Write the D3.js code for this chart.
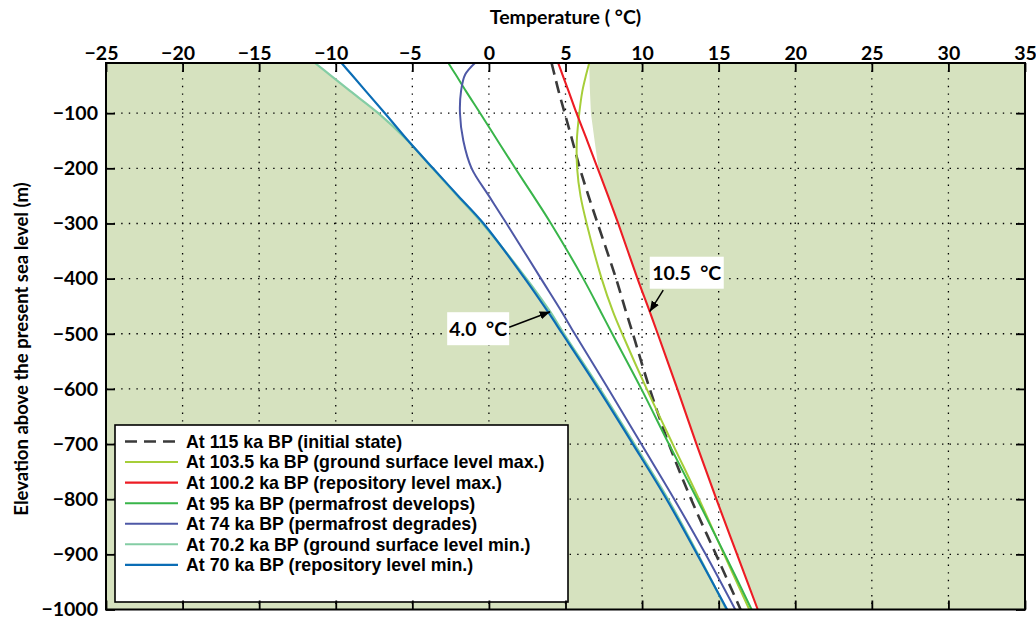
<!DOCTYPE html>
<html>
<head>
<meta charset="utf-8">
<script src="https://cdn.jsdelivr.net/npm/d3@7"></script>
<style>
  body { margin: 0; background: #fff; }
  text { font-family: Lato, "Open Sans", sans-serif; font-weight: 700; fill: #000; }
  .legend-label { font-family: "Liberation Sans", Arial, sans-serif; }
</style>
</head>
<body>
<svg id="chart" width="1036" height="621"></svg>
<script>
// Depth levels (m, elevation relative to present sea level)
const depthM = [-9, -30, -60, -100, -150, -200, -250, -300, -400, -460, -500, -600, -700, -800, -900, -1000];

// Temperature profiles (°C) at each depth level
const t115  = [4.09, 4.28, 4.55, 4.95, 5.45, 5.94, 6.5, 7.1, 8.3, 8.95, 9.4, 10.5, 11.75, 13.2, 14.82, 16.43];
const t1035 = [6.55, 6.35, 6.1, 5.9, 5.74, 5.76, 5.98, 6.38, 7.36, 8.1, 8.7, 10.3, 12.0, 13.72, 15.35, 17.0];
const t1002 = [4.52, 4.8, 5.2, 5.72, 6.42, 7.1, 7.78, 8.44, 9.7, 10.5, 11.02, 12.3, 13.55, 14.85, 16.2, 17.55];
const t95   = [-2.65, -2.17, -1.5, -0.57, 0.57, 1.72, 2.9, 4.05, 6.16, 7.3, 8.05, 9.95, 11.75, 13.6, 15.4, 17.15];
const t74   = [-0.91, -1.55, -1.82, -1.89, -1.67, -1.13, 0.0, 1.15, 3.4, 4.75, 5.6, 7.8, 9.95, 12.1, 14.15, 16.08];
const t702  = [-11.36, -10.4, -9.05, -7.22, -5.3, -3.68, -2.05, -0.42, 2.45, 4.0, 4.9, 7.25, 9.5, 11.7, 13.65, 15.5];
const t70   = [-9.62, -8.97, -8.04, -6.79, -5.27, -3.65, -2.0, -0.35, 2.35, 3.85, 4.8, 7.15, 9.4, 11.6, 13.6, 15.55];

// Warmest temperatures reached near the surface over the whole period
const warmDepthM = [-9, -50, -100, -150, -200];
const warmT      = [6.55, 6.58, 6.66, 6.9, 7.15];

const seriesLabels = [
  "At 115 ka BP (initial state)",
  "At 103.5 ka BP (ground surface level max.)",
  "At 100.2 ka BP (repository level max.)",
  "At 95 ka BP (permafrost develops)",
  "At 74 ka BP (permafrost degrades)",
  "At 70.2 ka BP (ground surface level min.)",
  "At 70 ka BP (repository level min.)"
];
const seriesValues = [t115, t1035, t1002, t95, t74, t702, t70];

const xTicks = [-25, -20, -15, -10, -5, 0, 5, 10, 15, 20, 25, 30, 35];
const yTicks = [-100, -200, -300, -400, -500, -600, -700, -800, -900, -1000];

// Annotated values at the repository level
const repoDepth = -460;
const repoMinT = 4.0;
const repoMaxT = 10.5;

// ---- styling ----
const seriesColors = ["#3a3a3a", "#a6ce39", "#ed1c24", "#39b54a", "#4e58a6", "#84cda4", "#0b6db5"];
const seriesDash   = ["12,7", null, null, null, null, null, null];
const seriesWidth  = [2.6, 2, 2.1, 2, 2, 2.2, 2.2];
const fillColor = "#d6e2bf";

const W = 1036, H = 621;
const m = { l: 106, t: 63, r: 1025, b: 609.5 };

const svg = d3.select("#chart");
const x = d3.scaleLinear().domain([-25, 35]).range([m.l, m.r]);
const y = d3.scaleLinear().domain([-1000, -9]).range([m.b, m.t]);

svg.append("rect").attr("width", W).attr("height", H).attr("fill", "#fff");
const defs = svg.append("defs");
defs.append("clipPath").attr("id", "plotClip")
  .append("rect").attr("x", m.l).attr("y", m.t).attr("width", m.r - m.l).attr("height", m.b - m.t);

const plot = svg.append("g").attr("clip-path", "url(#plotClip)");

// green background outside the range of simulated temperatures
plot.append("rect").attr("x", m.l).attr("y", m.t).attr("width", m.r - m.l).attr("height", m.b - m.t)
  .attr("fill", fillColor);

// white band between the coldest and warmest profiles
const interp = temps => d3.scaleLinear().domain(depthM).range(temps);
const fns = seriesValues.map(interp);
const warmF = d3.scaleLinear().domain(warmDepthM).range(warmT).clamp(true);
const zs = d3.range(-9, -1000, -2).concat([-1000]);
const band = zs.map(z => {
  const vals = fns.map(f => f(z));
  return { z, lo: d3.min(vals), hi: Math.max(d3.max(vals), warmF(z)) };
});
plot.append("path").datum(band)
  .attr("fill", "#fff")
  .attr("d", d3.area().y(d => y(d.z)).x0(d => x(d.lo)).x1(d => x(d.hi)).curve(d3.curveCatmullRom));

// dotted grid
const grid = plot.append("g").attr("stroke", "#000").attr("stroke-width", 1.3).attr("stroke-dasharray", "1.4,6.2");
grid.selectAll(".gx").data(xTicks.slice(1, -1)).join("line")
  .attr("x1", d => x(d)).attr("x2", d => x(d)).attr("y1", m.t).attr("y2", m.b);
grid.selectAll(".gy").data(yTicks.slice(0, -1)).join("line")
  .attr("y1", d => y(d)).attr("y2", d => y(d)).attr("x1", m.l).attr("x2", m.r);

// temperature profiles
const line = d3.line().x(d => x(d[0])).y(d => y(d[1])).curve(d3.curveCatmullRom.alpha(0.5));
seriesValues.forEach((vals, i) => {
  plot.append("path")
    .datum(vals.map((v, k) => [v, depthM[k]]))
    .attr("fill", "none")
    .attr("stroke", seriesColors[i])
    .attr("stroke-width", seriesWidth[i])
    .attr("stroke-dasharray", seriesDash[i])
    .attr("d", line);
});

// legend
const lg = svg.append("g");
lg.append("rect").attr("x", 115).attr("y", 425).attr("width", 453).attr("height", 177)
  .attr("fill", "#fff").attr("stroke", "#000").attr("stroke-width", 1.6);
seriesLabels.forEach((lab, i) => {
  const cy = 441.5 + i * 20.55;
  lg.append("line").attr("x1", 125).attr("x2", 178).attr("y1", cy).attr("y2", cy)
    .attr("stroke", seriesColors[i]).attr("stroke-width", seriesWidth[i])
    .attr("stroke-dasharray", seriesDash[i]);
  lg.append("text").attr("class", "legend-label").attr("x", 186).attr("y", cy).attr("dy", "0.36em")
    .style("font-size", "17.8px").text(lab);
});

// value callouts with arrows
defs.append("marker").attr("id", "arrowHead")
  .attr("viewBox", "0 0 10 10").attr("refX", 10).attr("refY", 5)
  .attr("markerWidth", 7).attr("markerHeight", 7).attr("orient", "auto")
  .append("path").attr("d", "M0,1 L10,5 L0,9 Z").attr("fill", "#000");

function callout(tVal, zVal, boxDx, boxDy, boxW, boxH, startDx, startDy, label) {
  const tx = x(tVal), ty = y(zVal);
  const g = svg.append("g");
  g.append("rect").attr("x", tx + boxDx - boxW / 2).attr("y", ty + boxDy - boxH / 2)
    .attr("width", boxW).attr("height", boxH).attr("fill", "#fff");
  g.append("text").attr("x", tx + boxDx).attr("y", ty + boxDy).attr("dy", "0.36em")
    .attr("text-anchor", "middle").style("font-size", "19.5px").style("white-space", "pre").text(label);
  g.append("line").attr("x1", tx + startDx).attr("y1", ty + startDy).attr("x2", tx).attr("y2", ty)
    .attr("stroke", "#000").attr("stroke-width", 1.5).attr("marker-end", "url(#arrowHead)");
}
callout(repoMinT, repoDepth, -72, 17, 62, 33, -41, 15.5, repoMinT.toFixed(1) + "  °C");
callout(repoMaxT, repoDepth, 37, -39, 74, 32, 13.5, -21.5, repoMaxT.toFixed(1) + "  °C");

// axes
const fmt = d => d < 0 ? "\u2212" + Math.abs(d) : String(d);
const tickLen = 9;

const axTop = svg.append("g").attr("transform", `translate(0,${m.t})`)
  .call(d3.axisTop(x).tickValues(xTicks).tickSizeInner(-tickLen).tickSizeOuter(0).tickPadding(3).tickFormat(fmt));
const axBottom = svg.append("g").attr("transform", `translate(0,${m.b})`)
  .call(d3.axisBottom(x).tickValues(xTicks).tickSizeInner(-tickLen).tickSizeOuter(0).tickFormat(""));
const axLeft = svg.append("g").attr("transform", `translate(${m.l},0)`)
  .call(d3.axisLeft(y).tickValues(yTicks).tickSizeInner(-tickLen).tickSizeOuter(0).tickPadding(8).tickFormat(fmt));
const axRight = svg.append("g").attr("transform", `translate(${m.r},0)`)
  .call(d3.axisRight(y).tickValues(yTicks).tickSizeInner(-tickLen).tickSizeOuter(0).tickFormat(""));

[axTop, axBottom, axLeft, axRight].forEach(a => {
  a.select(".domain").remove();
  a.selectAll(".tick line").attr("stroke", "#000").attr("stroke-width", 1.8);
  a.attr("font-family", null).attr("font-size", null);
  a.selectAll("text").style("font-size", "19.5px").style("font-weight", "700").attr("fill", "#000");
});
// negative labels on the temperature axis sit slightly left of their tick
axTop.selectAll(".tick text").attr("dx", d => d < 0 ? -2.5 * String(Math.abs(d)).length : 0);

// frame
svg.append("rect").attr("x", m.l).attr("y", m.t).attr("width", m.r - m.l).attr("height", m.b - m.t)
  .attr("fill", "none").attr("stroke", "#000").attr("stroke-width", 2);

// axis titles
svg.append("text").attr("x", (m.l + m.r) / 2).attr("y", 24).attr("text-anchor", "middle")
  .style("font-size", "19.5px").text("Temperature ( °C)");
svg.append("text").attr("transform", "translate(28,349) rotate(-90)").attr("text-anchor", "middle")
  .style("font-size", "18.5px").text("Elevation above the present sea level (m)");
</script>
</body>
</html>
